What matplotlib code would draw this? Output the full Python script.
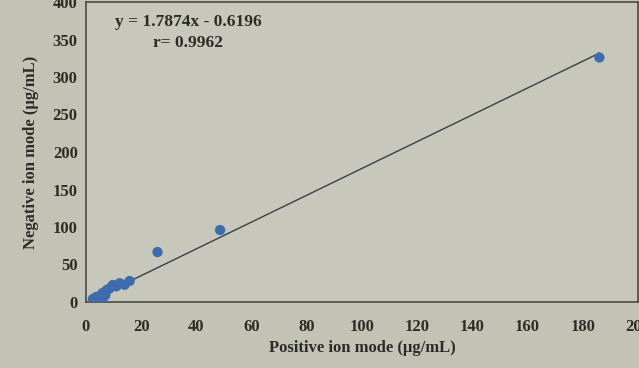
import matplotlib
matplotlib.use("Agg")
import matplotlib.pyplot as plt
import numpy as np

# Concentrations measured in both ionisation modes (µg/mL)
positive = [2.5, 3.5, 4.0, 5.0, 6.0, 6.0, 7.0, 7.5, 8.5, 9.7, 11.0, 12.2, 14.0, 15.8, 25.9, 48.6, 186.0]
negative = [4.0, 6.0, 7.0, 3.0, 0.5, 12.0, 9.0, 16.0, 18.0, 22.6, 21.0, 25.0, 23.0, 28.0, 66.6, 96.0, 326.0]

slope = 1.7874
intercept = -0.6196
r_value = 0.9962

x_ticks = [0, 20, 40, 60, 80, 100, 120, 140, 160, 180, 200]
y_ticks = [0, 50, 100, 150, 200, 250, 300, 350, 400]

bg = "#c2c3b5"
ink = "#2b2b28"

plt.rcParams["font.family"] = ["Liberation Serif", "DejaVu Serif"]
plt.rcParams["font.weight"] = "bold"

fig = plt.figure(figsize=(6.39, 3.68), dpi=100, facecolor=bg)
ax = fig.add_axes([86 / 639, 66 / 368, 552 / 639, 300 / 368])
ax.set_facecolor("#c7c8bb")

ax.scatter(positive, negative, s=55, color="#3d6cae", zorder=3, edgecolors="none")
xl = np.array([min(positive), max(positive)])
ax.plot(xl, slope * xl + intercept, color="#3a3f48", lw=1.0, zorder=2)

ax.set_xlim(0, 198.5)
ax.set_ylim(0, 400)
ax.set_xticks(x_ticks)
ax.set_yticks(y_ticks)
ax.tick_params(length=0, labelsize=12, colors=ink)
ax.tick_params(axis="x", pad=12)
ax.tick_params(axis="y", pad=6)
for lab in ax.get_xticklabels() + ax.get_yticklabels():
    lab.set_fontweight("bold")
for sp in ax.spines.values():
    sp.set_color("#4a4a44")
    sp.set_linewidth(1.2)

ax.set_xlabel("Positive ion mode (μg/mL)", fontsize=12, fontweight="bold", color=ink, labelpad=4)
ax.set_ylabel("Negative ion mode (μg/mL)", fontsize=12, fontweight="bold", color=ink, labelpad=10)

ax.text(188 / 639, 1 - 22 / 368, f"y = {slope}x - {abs(intercept)}", transform=fig.transFigure,
        ha="center", va="center", fontsize=12.5, fontweight="bold", color=ink)
ax.text(188 / 639, 1 - 43 / 368, f"r= {r_value}", transform=fig.transFigure,
        ha="center", va="center", fontsize=12.5, fontweight="bold", color=ink)

fig.savefig("out.png", dpi=100, facecolor=bg)
